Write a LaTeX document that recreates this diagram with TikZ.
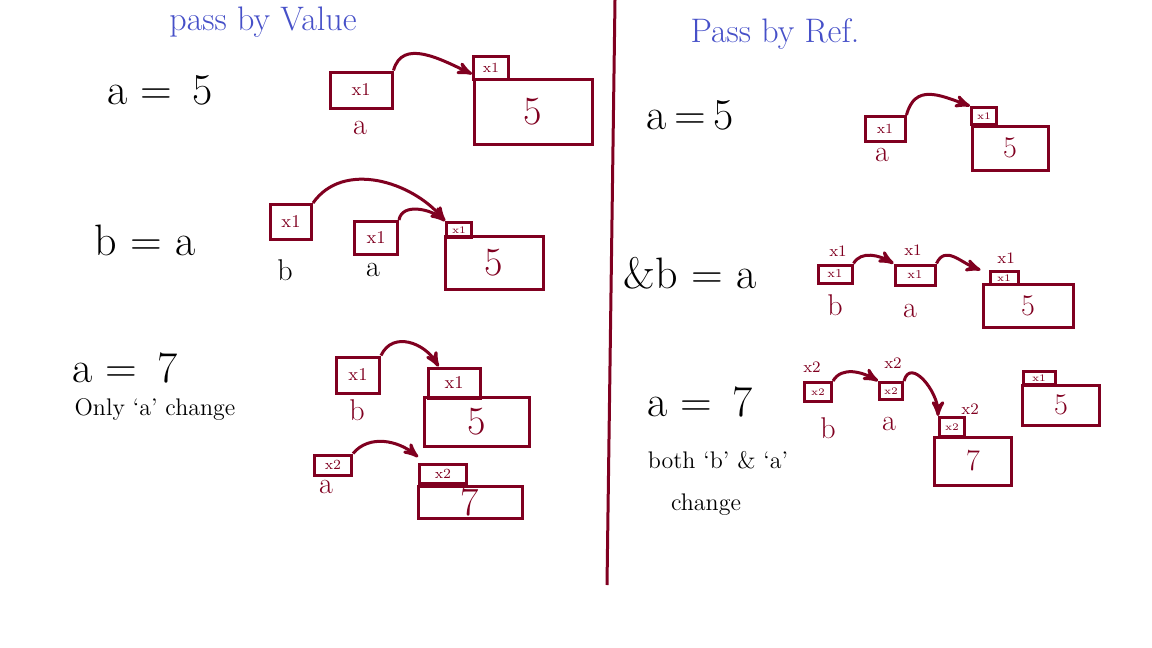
\documentclass[tikz,border=0pt]{standalone}
\usepackage{tikz}
\usetikzlibrary{arrows,positioning}
\definecolor{ink}{RGB}{128,0,32}
\definecolor{pen}{RGB}{70,80,200}
\tikzset{var box/.style={rectangle,draw=ink,line width=1.5pt,inner sep=0pt,text=ink,font=\fontsize{9}{9}\selectfont},
         cell head/.style={rectangle,draw=ink,line width=1.5pt,inner sep=0pt,text=ink,font=\fontsize{7}{7}\selectfont},
         cell body/.style={rectangle,draw=ink,line width=1.5pt,inner sep=0pt,text=ink,font=\fontsize{20}{20}\selectfont},
         var label/.style={text=ink,inner sep=0pt,font=\fontsize{15}{15}\selectfont},
         tag text/.style={text=ink,inner sep=0pt,font=\fontsize{8}{8}\selectfont},
         hand text/.style={inner sep=0pt,font=\fontsize{22}{24}\selectfont},
         note text/.style={inner sep=0pt,font=\fontsize{12}{14}\selectfont},
         title text/.style={text=pen,inner sep=0pt,font=\fontsize{17}{19}\selectfont},
         ptr edge/.style={->,draw=ink,line width=1.5pt},
}

\begin{document}
\begin{tikzpicture}[>=stealth', x=0.5pt, y=-0.5pt]

\useasboundingbox (0,0) rectangle (1152,648);
% \draw[help lines,step=50] (0,0) grid (1152,648);

\node[title text] (tv) at (263,22) {pass by Value};
\node[title text] (tr) at (775,34) {Pass by Ref.};
\draw[ink,line width=1.5pt] (615,0) -- (607,585);

% pass by value
\node[hand text] (e1) at (160,90) {a = \,5};
\node[var box,minimum width=31pt,minimum height=18pt] (a1) at (361,90) {x1};
\node[var label] (la1) at (360,128) {a};
\node[cell head,minimum width=17.5pt,minimum height=11.5pt] (h1) at (491,68) {x1};
\node[cell body,minimum width=59pt,minimum height=32.5pt] (c1) at (533,112) {5};
\draw[ptr edge] (a1.north east) to[out=75,in=155,looseness=1.1] ([yshift=-3pt]h1.west);

\node[hand text] (e2) at (145,240) {b = a};
\node[var box,minimum width=20.5pt,minimum height=17.5pt] (b2) at (291,222) {x1};
\node[var label,text=black] (lb2) at (285,270) {b};
\node[var box,minimum width=21.5pt,minimum height=16.5pt] (a2) at (376,238) {x1};
\node[var label,text=black] (la2) at (373,270) {a};
\node[cell head,minimum width=12.5pt,minimum height=7.5pt,font=\fontsize{5}{5}\selectfont] (h2) at (459,230) {x1};
\node[cell body,minimum width=49pt,minimum height=26.5pt] (c2) at (494,263) {5};
\draw[ptr edge] (b2.north east) to[out=55,in=130] (h2.north west);
\draw[ptr edge] (a2.north east) to[out=80,in=140] (h2.north west);

\node[hand text] (e3) at (125,368) {a = \,7};
\node[note text] (n1) at (155,410) {Only `a' change};
\node[var box,minimum width=21.5pt,minimum height=18pt] (b3) at (358,375) {x1};
\node[var label] (lb3) at (357,410) {b};
\node[cell head,minimum width=26pt,minimum height=15pt,font=\fontsize{9}{9}\selectfont] (h3) at (454,383) {x1};
\node[cell body,minimum width=52.5pt,minimum height=24.5pt] (c3) at (477,422) {5};
\draw[ptr edge] (b3.north east) to[out=65,in=120,looseness=1.2] ([xshift=6pt]h3.north west);

\node[var box,minimum width=18.5pt,minimum height=10pt,font=\fontsize{7}{7}\selectfont] (a4) at (333,465) {x2};
\node[var label] (la4) at (326,487) {a};
\node[cell head,minimum width=23.5pt,minimum height=9.5pt] (h4) at (443,474) {x2};
\node[cell body,minimum width=52pt,minimum height=16pt] (c4) at (470,502) {7};
\draw[ptr edge] (a4.north east) to[out=50,in=140] ([yshift=3pt]h4.north west);

% pass by reference
\node[hand text] (e4) at (690,115) {a\,=\,5};
\node[var box,minimum width=20pt,minimum height=12.5pt,font=\fontsize{7}{7}\selectfont] (a5) at (885,129) {x1};
\node[var label] (la5) at (882,155) {a};
\node[cell head,minimum width=12.5pt,minimum height=8.5pt,font=\fontsize{5}{5}\selectfont] (h5) at (984,116) {x1};
\node[cell body,minimum width=38pt,minimum height=22pt,font=\fontsize{15}{15}\selectfont] (c5) at (1010,148) {5};
\draw[ptr edge] (a5.north east) to[out=75,in=160,looseness=1.3] (h5.north west);

\node[hand text] (e5) at (690,273) {\&b = a};
\node[tag text] (t6b) at (838,251) {x1};
\node[var box,minimum width=17pt,minimum height=9pt,font=\fontsize{6}{6}\selectfont] (b6) at (835,274) {x1};
\node[var label] (lb6) at (835,305) {b};
\node[tag text] (t6a) at (913,250) {x1};
\node[var box,minimum width=20pt,minimum height=10pt,font=\fontsize{6}{6}\selectfont] (a6) at (915,275) {x1};
\node[var label] (la6) at (910,311) {a};
\node[tag text] (t6c) at (1006,258) {x1};
\node[cell head,minimum width=14pt,minimum height=6.5pt,font=\fontsize{5}{5}\selectfont] (h6) at (1004,278) {x1};
\node[cell body,minimum width=45pt,minimum height=21.5pt,font=\fontsize{15}{15}\selectfont] (c6) at (1028,306) {5};
\draw[ptr edge] (b6.north east) to[out=60,in=150] (a6.north west);
\draw[ptr edge] (a6.north east) to[out=65,in=160,looseness=1.2] ([xshift=-4pt]h6.north west);

\node[hand text] (e6) at (700,402) {a = \,7};
\node[note text] (n2) at (718,460) {both `b' \& `a'};
\node[note text] (n3) at (706,505) {change};
\node[tag text] (t7b) at (812,367) {x2};
\node[var box,minimum width=13.5pt,minimum height=9.5pt,font=\fontsize{5}{5}\selectfont] (b7) at (818,392) {x2};
\node[var label] (lb7) at (828,428) {b};
\node[tag text] (t7a) at (893,363) {x2};
\node[var box,minimum width=11.5pt,minimum height=8.5pt,font=\fontsize{5}{5}\selectfont] (a7) at (891,391) {x2};
\node[var label] (la7) at (889,424) {a};
\node[tag text] (t7c) at (970,409) {x2};
\node[cell head,minimum width=12.5pt,minimum height=9.5pt,font=\fontsize{5}{5}\selectfont] (h7) at (952,427) {x2};
\node[cell body,minimum width=38.5pt,minimum height=24pt,font=\fontsize{15}{15}\selectfont] (c7) at (973,461) {7};
\draw[ptr edge] (b7.north east) to[out=60,in=150] (a7.north west);
\draw[ptr edge] (a7.north east) to[out=75,in=90,looseness=1.3] (h7.north west);

\node[cell head,minimum width=16pt,minimum height=6.5pt,font=\fontsize{5}{5}\selectfont] (h8) at (1039,378) {x1};
\node[cell body,minimum width=38.5pt,minimum height=20pt,font=\fontsize{15}{15}\selectfont] (c8) at (1061,405) {5};

\end{tikzpicture}
\end{document}
